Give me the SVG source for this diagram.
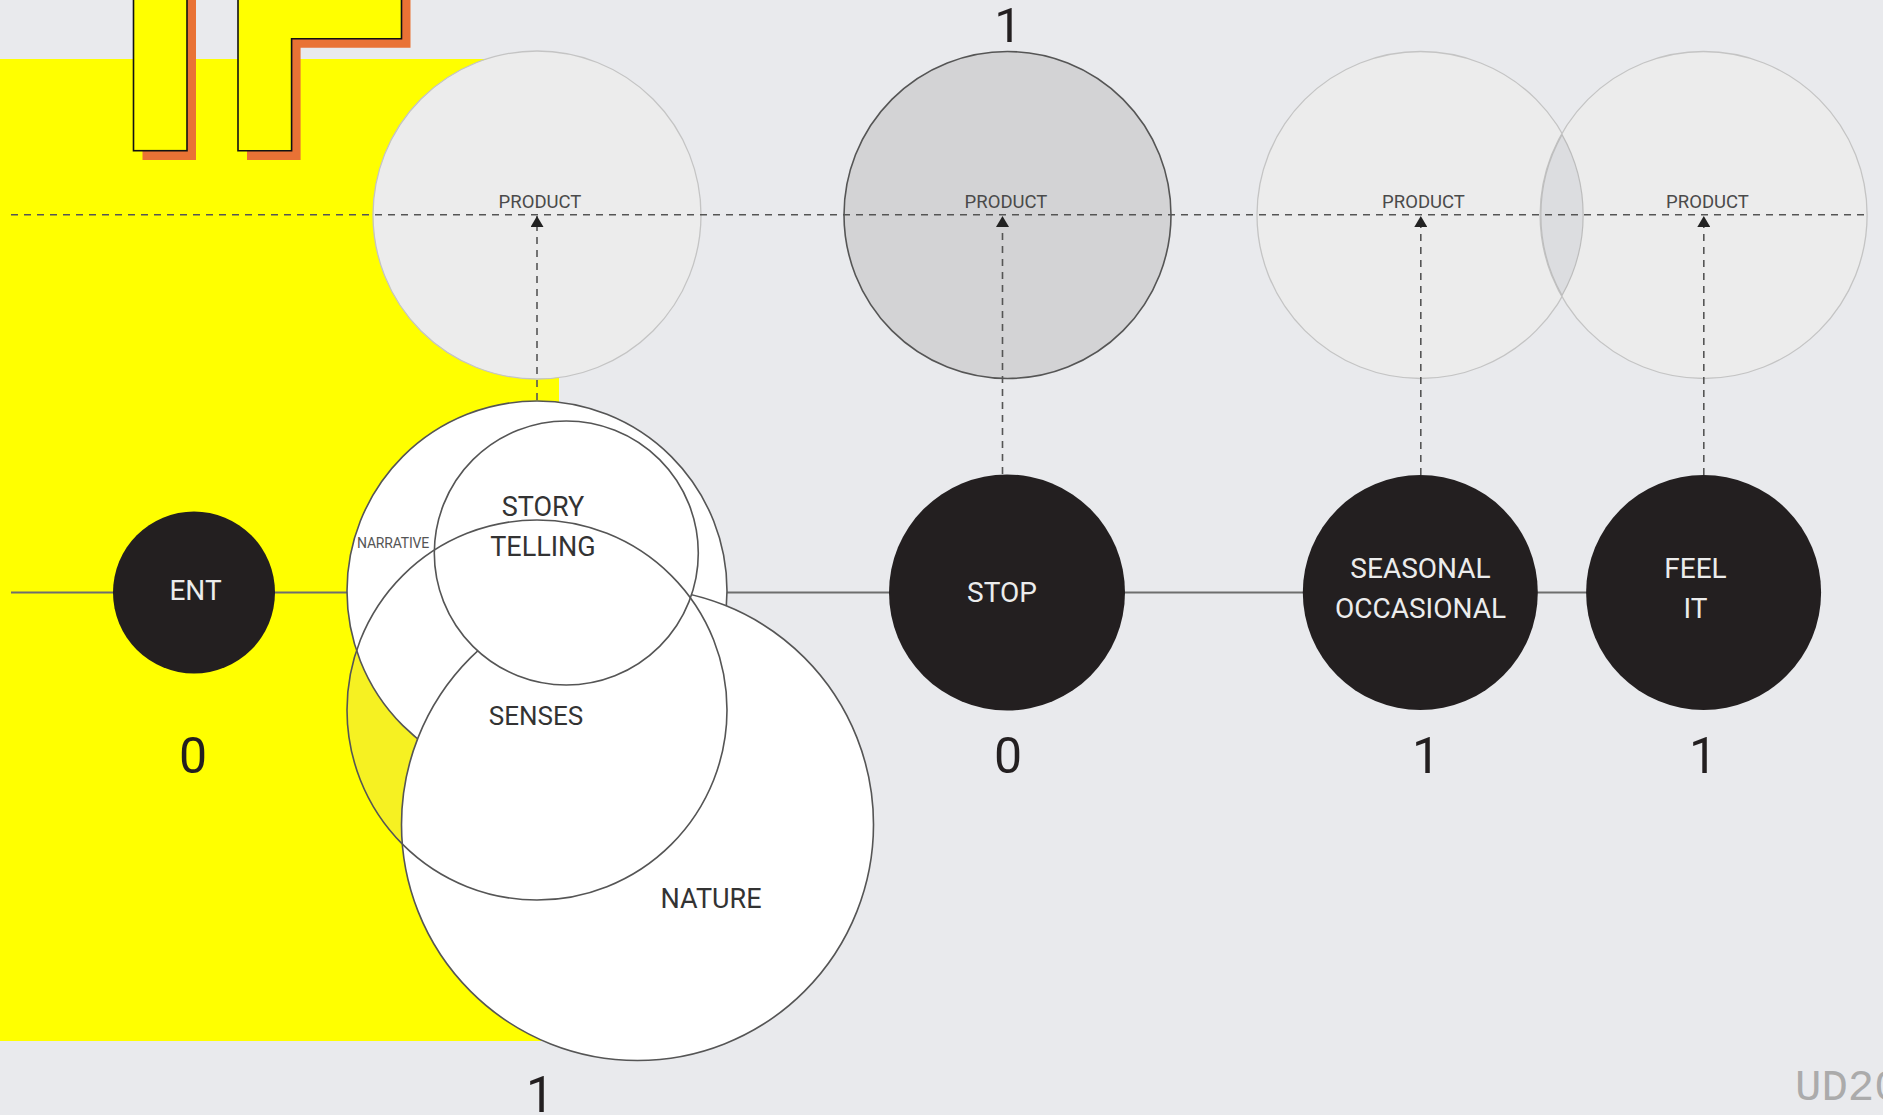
<svg xmlns="http://www.w3.org/2000/svg" width="1883" height="1115" viewBox="0 0 1883 1115">
<style>
.lbl{font-family:Roboto,"Liberation Sans",sans-serif;text-anchor:middle}
.prod{fill:#ececec;stroke:#c4c4c4;stroke-width:1.3}
.ptxt{font-size:18.5px;fill:#4a4a4a}
.black{fill:#231f20}
.wtxt{font-size:28px;fill:#ececec}
.num{font-size:50px;fill:#231f20}
.venn{stroke:#555;stroke-width:1.6}
.vtxt{font-size:27px;fill:#333}
.dash{stroke:#555;stroke-width:1.6;stroke-dasharray:7 6;fill:none}
</style>
<defs>
<marker id="arr" viewBox="0 0 11 13" refX="11" refY="6.5" markerWidth="11" markerHeight="13" markerUnits="userSpaceOnUse" orient="auto">
<path d="M0,0 L11,6.5 L0,13 z" fill="#222"/>
</marker>
</defs>
<rect x="0" y="0" width="1883" height="1115" fill="#e9eaed"/>
<rect x="0" y="59" width="559" height="982" fill="#ffff00"/>
<g id="logo">
<rect x="142.5" y="-10" width="53.5" height="170" fill="#e97235"/>
<path d="M247,-1 L410.5,-1 L410.5,47.7 L300.6,47.7 L300.6,160 L247,160 Z" fill="#e97235"/>
<rect x="133.5" y="-10" width="53.5" height="160.7" fill="#ffff00" stroke="#111" stroke-width="1.6"/>
<path d="M238,-10 L401.5,-10 L401.5,38.7 L291.6,38.7 L291.6,150.7 L238,150.7 Z" fill="#ffff00" stroke="#111" stroke-width="1.6"/>
</g>
<g id="product1"><circle class="prod" cx="537" cy="215" r="164"/><text class="lbl ptxt" x="540" y="208">PRODUCT</text></g>
<g id="product2"><circle cx="1007.5" cy="215" r="163.5" fill="#d3d3d5" stroke="#555" stroke-width="1.6"/><text class="lbl ptxt" x="1006" y="208">PRODUCT</text></g>
<g id="product3"><circle class="prod" cx="1420.5" cy="215" r="163.5"/><text class="lbl ptxt" x="1423.5" y="208">PRODUCT</text></g>
<g id="product4"><circle class="prod" cx="1703.6" cy="215" r="163.5"/><text class="lbl ptxt" x="1707.5" y="208">PRODUCT</text></g>
<path id="overlap" d="M1562,134.6 A163.5,163.5 0 0,1 1562,295.4 A163.5,163.5 0 0,1 1562,134.6 Z" fill="#dcdde0" stroke="#bdbdbd" stroke-width="1.2"/>
<text class="lbl" x="1008" y="42" font-size="49" fill="#231f20">1</text>
<g id="connectors">
<line class="dash" x1="11" y1="214.7" x2="1864" y2="214.7"/>
<line class="dash" x1="537" y1="400" x2="537" y2="216" marker-end="url(#arr)"/>
<line class="dash" x1="1002.5" y1="474" x2="1002.5" y2="216" marker-end="url(#arr)"/>
<line class="dash" x1="1420.8" y1="475" x2="1420.8" y2="216" marker-end="url(#arr)"/>
<line class="dash" x1="1703.8" y1="475" x2="1703.8" y2="216" marker-end="url(#arr)"/>
<line x1="11" y1="592.5" x2="1704" y2="592.5" stroke="#6e6e6e" stroke-width="1.8"/>
</g>
<g id="ent"><circle class="black" cx="194" cy="592.5" r="81"/><text class="lbl wtxt" x="195.5" y="600">ENT</text><text class="lbl num" x="193" y="773">0</text></g>
<g id="venn">
<circle id="senses-fill" cx="537" cy="710" r="190" fill="#f6f122"/>
<g id="narrative"><circle class="venn" cx="537" cy="591" r="190" fill="#fff"/><text class="lbl" x="393" y="548" font-size="14" fill="#555" letter-spacing="-0.2">NARRATIVE</text></g>
<g id="nature"><circle class="venn" cx="637.5" cy="824.5" r="236" fill="#fff"/><text class="lbl vtxt" x="711" y="908">NATURE</text></g>
<g id="story"><circle class="venn" cx="566.3" cy="553" r="132" fill="#fff"/><text class="lbl vtxt" x="543" y="516">STORY</text><text class="lbl vtxt" x="543" y="556">TELLING</text></g>
<g id="senses"><circle class="venn" cx="537" cy="710" r="190" fill="none"/><text class="lbl" x="536" y="725" font-size="26" fill="#333">SENSES</text></g>
<text class="lbl num" x="540" y="1112">1</text>
</g>
<g id="stop"><circle class="black" cx="1007" cy="592.5" r="118"/><text class="lbl wtxt" x="1002" y="601.5">STOP</text><text class="lbl num" x="1008" y="773">0</text></g>
<g id="seasonal"><circle class="black" cx="1420.3" cy="592.5" r="117.5"/><text class="lbl wtxt" x="1420.5" y="577.5">SEASONAL</text><text class="lbl wtxt" x="1420.5" y="617.5">OCCASIONAL</text><text class="lbl num" x="1426" y="773">1</text></g>
<g id="feelit"><circle class="black" cx="1703.6" cy="592.5" r="117.5"/><text class="lbl wtxt" x="1695.5" y="577.5">FEEL</text><text class="lbl wtxt" x="1695.5" y="617.5">IT</text><text class="lbl num" x="1703" y="773">1</text></g>
<text x="1795" y="1100" font-family="'Liberation Mono','Courier New',monospace" font-size="44" fill="#ababab">UD20</text>
</svg>
